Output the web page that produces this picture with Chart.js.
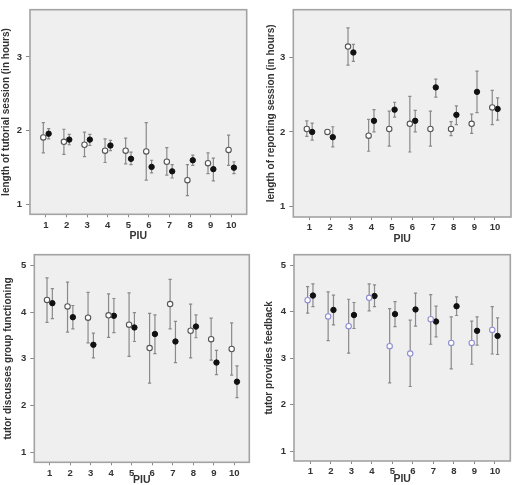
<!DOCTYPE html>
<html>
<head>
<meta charset="utf-8">
<script src="https://cdn.jsdelivr.net/npm/chart.js@4.4.1/dist/chart.umd.min.js"></script>
<style>
  html, body { margin: 0; padding: 0; background: #ffffff; width: 515px; height: 485px; overflow: hidden; }
  .panel { position: absolute; }
</style>
</head>
<body>
<div class="panel" style="left:0px;top:0px;"><canvas id="c1" width="258" height="242"></canvas></div>
<div class="panel" style="left:258px;top:0px;"><canvas id="c2" width="257" height="245"></canvas></div>
<div class="panel" style="left:0px;top:242px;"><canvas id="c3" width="258" height="246"></canvas></div>
<div class="panel" style="left:258px;top:242px;"><canvas id="c4" width="257" height="246"></canvas></div>
<script>
// ---------- data ----------
const piu = [1, 2, 3, 4, 5, 6, 7, 8, 9, 10];
const xTickLabels = ['1', '2', '3', '4', '5', '6', '7', '8', '9', '10'];
const hourTicks = [1, 2, 3];
const scoreTicks = [1, 2, 3, 4, 5];

// Panel 1: length of tutorial session (in hours)
const tutOpenMean = [1.91, 1.85, 1.81, 1.73, 1.73, 1.72, 1.58, 1.33, 1.56, 1.74];
const tutOpenLo   = [1.70, 1.68, 1.65, 1.57, 1.55, 1.33, 1.40, 1.12, 1.42, 1.53];
const tutOpenHi   = [2.11, 2.02, 1.98, 1.89, 1.90, 2.11, 1.77, 1.54, 1.70, 1.94];
const tutFillMean = [1.96, 1.88, 1.88, 1.80, 1.62, 1.51, 1.45, 1.60, 1.48, 1.50];
const tutFillLo   = [1.89, 1.81, 1.80, 1.73, 1.54, 1.43, 1.36, 1.53, 1.32, 1.42];
const tutFillHi   = [2.03, 1.95, 1.95, 1.87, 1.71, 1.60, 1.54, 1.67, 1.63, 1.58];

// Panel 2: length of reporting session (in hours)
const repOpenMean = [2.04, 2.00, 3.15, 1.95, 2.04, 2.11, 2.04, 2.04, 2.11, 2.33];
const repOpenLo   = [1.94, null, 2.90, 1.74, 1.81, 1.73, 1.81, 1.95, 1.98, 2.10];
const repOpenHi   = [2.15, null, 3.40, 2.17, 2.28, 2.48, 2.28, 2.14, 2.24, 2.56];
const repFillMean = [2.00, 1.93, 3.07, 2.15, 2.30, 2.15, 2.60, 2.23, 2.54, 2.31];
const repFillLo   = [1.89, 1.80, 2.95, 2.00, 2.20, 2.00, 2.47, 2.10, 2.26, 2.16];
const repFillHi   = [2.12, 2.07, 3.18, 2.30, 2.40, 2.29, 2.71, 2.35, 2.82, 2.46];

// Panel 3: tutor discusses group functioning
const grpOpenMean = [4.26, 4.12, 3.88, 3.93, 3.73, 3.23, 4.17, 3.60, 3.42, 3.21];
const grpOpenLo   = [3.78, 3.57, 3.34, 3.46, 3.05, 2.48, 3.64, 3.02, 2.97, 2.65];
const grpOpenHi   = [4.73, 4.64, 4.42, 4.39, 4.41, 3.97, 4.70, 4.17, 3.87, 3.77];
const grpFillMean = [4.19, 3.89, 3.30, 3.92, 3.67, 3.53, 3.37, 3.69, 2.92, 2.51];
const grpFillLo   = [3.86, 3.64, 3.02, 3.56, 3.37, 3.11, 2.92, 3.45, 2.66, 2.17];
const grpFillHi   = [4.50, 4.14, 3.55, 4.29, 3.99, 3.94, 3.80, 3.94, 3.18, 2.85];

// Panel 4: tutor provides feedback
const fbOpenMean = [4.25, 3.90, 3.69, 4.30, 3.26, 3.10, 3.84, 3.33, 3.33, 3.61];
const fbOpenLo   = [3.97, 3.38, 3.11, 4.02, 2.47, 2.39, 3.30, 2.77, 2.87, 3.09];
const fbOpenHi   = [4.54, 4.43, 4.27, 4.60, 4.07, 3.82, 4.37, 3.89, 3.80, 4.11];
const fbFillMean = [4.35, 4.04, 3.93, 4.34, 3.95, 4.05, 3.79, 4.12, 3.59, 3.48];
const fbFillLo   = [4.11, 3.72, 3.64, 4.11, 3.68, 3.69, 3.46, 3.92, 3.28, 3.08];
const fbFillHi   = [4.60, 4.36, 4.20, 4.58, 4.22, 4.40, 4.12, 4.32, 3.89, 3.87];

// ---------- styling ----------
const OPEN_OFF = -0.13, FILL_OFF = 0.13;
const TEXT = '#333333';
const FONT = '"Liberation Sans", Arial, sans-serif';

function pts(means, los, his, off) {
  return piu.map((p, i) => ({ x: p + off, y: means[i], lo: los[i], hi: his[i] }));
}

const errorBars = {
  id: 'errorBars',
  beforeDatasetsDraw(chart) {
    const { ctx, scales: { x, y } } = chart;
    ctx.save();
    ctx.strokeStyle = '#8a8a8a';
    ctx.lineWidth = 1.2;
    chart.data.datasets.forEach(ds => {
      ds.data.forEach(p => {
        if (p.lo == null || p.hi == null) return;
        const px = x.getPixelForValue(p.x);
        const t = y.getPixelForValue(p.hi), b = y.getPixelForValue(p.lo);
        ctx.beginPath();
        ctx.moveTo(px, t); ctx.lineTo(px, b);
        ctx.moveTo(px - 1.6, t); ctx.lineTo(px + 1.6, t);
        ctx.moveTo(px - 1.6, b); ctx.lineTo(px + 1.6, b);
        ctx.stroke();
      });
    });
    ctx.restore();
  }
};

const frame = {
  id: 'frame',
  beforeDraw(chart) {
    const { ctx, chartArea: a } = chart;
    ctx.save();
    ctx.fillStyle = '#efefef';
    ctx.fillRect(a.left, a.top, a.right - a.left, a.bottom - a.top);
    ctx.restore();
  },
  afterDraw(chart) {
    const { ctx, chartArea: a } = chart;
    ctx.save();
    ctx.strokeStyle = '#a3a3a3';
    ctx.lineWidth = 1.6;
    ctx.strokeRect(a.left, a.top, a.right - a.left, a.bottom - a.top);
    ctx.restore();
  }
};

function makeChart(id, cfg) {
  new Chart(document.getElementById(id), {
    type: 'scatter',
    data: {
      datasets: [
        {
          data: pts(cfg.om, cfg.ol, cfg.oh, OPEN_OFF),
          pointStyle: 'circle', pointRadius: 2.7, pointHoverRadius: 2.7,
          backgroundColor: '#ffffff', borderColor: cfg.openColor, borderWidth: 1.1
        },
        {
          data: pts(cfg.fm, cfg.fl, cfg.fh, FILL_OFF),
          pointStyle: 'circle', pointRadius: 2.7, pointHoverRadius: 2.7,
          backgroundColor: '#111111', borderColor: '#111111', borderWidth: 1
        }
      ]
    },
    options: {
      responsive: false,
      animation: false,
      events: [],
      layout: { padding: { left: 0, top: cfg.padTop, right: cfg.padRight, bottom: 0 } },
      plugins: { legend: { display: false }, tooltip: { enabled: false } },
      scales: {
        x: {
          type: 'linear', min: cfg.xMin, max: cfg.xMax,
          afterBuildTicks: s => { s.ticks = piu.map(v => ({ value: v })); },
          afterFit: s => { s.height = cfg.xHeight; },
          grid: { drawOnChartArea: false, drawTicks: true, tickLength: 3, color: '#888888', lineWidth: 1 },
          border: { display: false },
          ticks: {
            autoSkip: false, maxRotation: 0, padding: 2, color: TEXT,
            font: { family: FONT, size: 9.5, weight: 'bold' },
            callback: (v) => xTickLabels[piu.indexOf(v)]
          },
          title: {
            display: true, text: 'PIU', color: TEXT,
            font: { family: FONT, size: 10.5, weight: 'bold', lineHeight: 1.2 },
            padding: { top: 0, bottom: cfg.xTitlePad }
          }
        },
        y: {
          type: 'linear', min: cfg.yMin, max: cfg.yMax,
          afterBuildTicks: s => { s.ticks = cfg.yTicks.map(v => ({ value: v })); },
          afterFit: s => { s.width = cfg.yWidth; },
          grid: { drawOnChartArea: false, drawTicks: true, tickLength: 4, color: '#888888', lineWidth: 1 },
          border: { display: false },
          ticks: {
            padding: 4, color: TEXT,
            font: { family: FONT, size: 9.5, weight: 'bold' }
          },
          title: {
            display: true, text: cfg.yTitle, color: TEXT,
            font: { family: FONT, size: 10, weight: 'bold', lineHeight: 1.2 },
            padding: { top: cfg.yTitlePad, bottom: 0 }
          }
        }
      }
    },
    plugins: [frame, errorBars]
  });
}

makeChart('c1', {
  om: tutOpenMean, ol: tutOpenLo, oh: tutOpenHi, fm: tutFillMean, fl: tutFillLo, fh: tutFillHi,
  openColor: '#555555', yTitle: 'length of tutorial session (in hours)', yTicks: hourTicks,
  xMin: 0.223, xMax: 10.75, yMin: 0.868, yMax: 3.64,
  yWidth: 30, padTop: 4.3, padRight: 11.3, xHeight: 27.7, yTitlePad: 0, xTitlePad: 0
});
makeChart('c2', {
  om: repOpenMean, ol: repOpenLo, oh: repOpenHi, fm: repFillMean, fl: repFillLo, fh: repFillHi,
  openColor: '#555555', yTitle: 'length of reporting session (in hours)', yTicks: hourTicks,
  xMin: 0.214, xMax: 10.78, yMin: 0.855, yMax: 3.646,
  yWidth: 35.3, padTop: 5.3, padRight: 4, xHeight: 28, yTitlePad: 7.3, xTitlePad: 0
});
makeChart('c3', {
  om: grpOpenMean, ol: grpOpenLo, oh: grpOpenHi, fm: grpFillMean, fl: grpFillLo, fh: grpFillHi,
  openColor: '#555555', yTitle: 'tutor discusses group functioning', yTicks: scoreTicks,
  xMin: 0.25, xMax: 10.73, yMin: 0.786, yMax: 5.227,
  yWidth: 34.3, padTop: 12.7, padRight: 8.7, xHeight: 25.7, yTitlePad: 2.3, xTitlePad: 1.5
});
makeChart('c4', {
  om: fbOpenMean, ol: fbOpenLo, oh: fbOpenHi, fm: fbFillMean, fl: fbFillLo, fh: fbFillHi,
  openColor: '#8e8ed0', yTitle: 'tutor provides feedback', yTicks: scoreTicks,
  xMin: 0.206, xMax: 10.75, yMin: 0.785, yMax: 5.23,
  yWidth: 36, padTop: 12.7, padRight: 4.7, xHeight: 27, yTitlePad: 5.7, xTitlePad: 2.7
});
</script>
</body>
</html>
